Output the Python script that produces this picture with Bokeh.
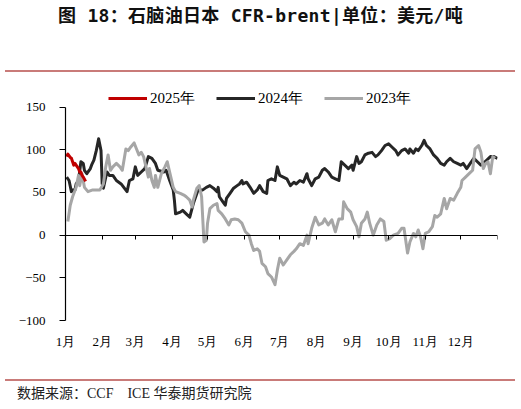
from bokeh.plotting import figure
from bokeh.models import (Range1d, FixedTicker, LinearAxis, Legend, LegendItem, Div)
from bokeh.layouts import column
from bokeh.embed import file_html
from bokeh.resources import INLINE

# ---- data (day of year, value in USD/t) ----
month_starts = [0, 31, 59, 90, 120, 151, 181, 212, 243, 273, 304, 334]
month_bounds = month_starts + [365]
month_labels = ["1月", "2月", "3月", "4月", "5月", "6月", "7月", "8月", "9月", "10月", "11月", "12月"]
y_ticks = [-100, -50, 0, 50, 100, 150]

d2025 = [1, 2, 4, 5, 6, 7, 8, 9, 11, 12, 13, 14, 15, 17]
v2025 = [92, 95, 91, 90, 86, 82, 84, 82, 78, 74, 74, 70, 68, 63]

d2024 = [1, 3, 5, 6, 8, 9, 11, 13, 15, 16, 18, 21, 22, 24, 26, 28, 30, 31, 32, 35, 37, 40,
         43, 47, 52, 54, 57, 59, 61, 64, 67, 70, 73, 76, 78, 83, 85, 88, 91, 92, 93, 97, 99,
         102, 105, 108, 112, 116, 119, 122, 125, 128, 129, 130, 133, 135, 136, 139, 142, 145,
         147, 149, 150, 153, 156, 159, 162, 164, 167, 170, 171, 174, 177, 179, 181, 184, 187,
         190, 193, 195, 198, 201, 204, 205, 208, 211, 214, 217, 219, 222, 225, 228, 231, 233,
         239, 242, 243, 246, 248, 250, 253, 256, 259, 262, 264, 267, 270, 273, 276, 279, 281,
         284, 287, 290, 291, 294, 296, 298, 301, 303, 305, 308, 311, 314, 317, 320, 322, 325,
         328, 331, 334, 336, 339, 342, 345, 348, 351, 353, 356, 359, 362, 365]
v2024 = [68, 64, 51, 53, 53, 60, 64, 86, 84, 76, 72, 78, 82, 88, 99, 113, 99, 60, 55, 74, 70, 70,
         64, 60, 51, 64, 66, 80, 70, 74, 78, 92, 90, 84, 76, 74, 76, 64, 53, 41, 25, 27, 29,
         25, 21, 37, 53, 53, 56, 58, 55, 51, 56, 45, 39, 35, 43, 49, 55, 58,
         60, 64, 60, 62, 56, 49, 53, 58, 51, 49, 64, 66, 64, 80, 70, 68, 66,
         58, 62, 60, 64, 62, 72, 66, 58, 66, 68, 76, 78, 74, 68, 66, 64, 86,
         78, 82, 76, 92, 84, 86, 94, 96, 97, 92, 94, 99, 105, 107, 103, 99, 94,
         99, 101, 96, 101, 96, 101, 99, 105, 111, 105, 101, 94, 90, 84, 82, 86, 90,
         86, 84, 82, 84, 78, 84, 90, 86, 82, 84, 88, 92, 92, 90]

d2023 = [2, 4, 6, 9, 11, 12, 14, 16, 19, 23, 29, 32, 34, 36, 38, 40, 43, 46, 48, 51, 53, 55,
         58, 60, 62, 64, 66, 68, 70, 71, 73, 75, 76, 78, 81, 84, 86, 88, 91, 93, 97, 100,
         102, 105, 107, 108, 111, 113, 115, 117, 119, 120, 122, 125, 128, 129, 132, 135, 138,
         140, 143, 146, 149, 152, 155, 157, 159, 162, 164, 166, 169, 171, 174, 177, 179, 181,
         184, 187, 190, 193, 195, 198, 201, 204, 205, 208, 211, 214, 217, 219, 222, 225, 228,
         231, 234, 235, 238, 241, 243, 246, 248, 250, 253, 255, 257, 260, 263, 266, 269, 271,
         274, 277, 281, 284, 286, 289, 291, 294, 296, 298, 300, 302, 304, 307, 310, 312, 314,
         317, 320, 322, 325, 328, 331, 334, 335, 338, 341, 344, 346, 349, 351, 353, 355, 357,
         359, 361, 363]
v2023 = [16, 35, 45, 56, 70, 58, 72, 56, 51, 53, 53, 60, 80, 94, 76, 80, 84, 80, 76, 101, 99, 103,
         108, 101, 94, 97, 92, 80, 68, 78, 64, 56, 70, 56, 72, 80, 86, 74, 56, 51, 49, 47,
         45, 41, 33, 41, 55, 58, 45, -8, -6, 14, 31, 35, 37, 29, 25, 19, 12,
         18, 19, 18, 14, 4, 0, -10, -18, -16, -19, -33, -37, -45, -49, -58, -41, -27,
         -35, -29, -23, -19, -16, -10, -12, 0, -10, 8, 21, 12, 14, 19, 12, 18, 4,
         19, 19, 39, 31, 27, 18, 10, -2, 14, 19, 27, 14, 0, 12, 19, 16, -6,
         -4, 0, 2, 8, 8, -21, -8, 2, -2, 6, -2, -16, 2, 4, 10, 23, 21,
         25, 43, 31, 43, 41, 49, 56, 64, 68, 72, 76, 101, 105, 97, 78, 84, 86,
         72, 92, 90]

SERIF = "Times New Roman"

# frame extends above 150 to leave room for the legend inside it; the axis is bounded to -100..150
p = figure(width=505, height=304, output_backend="svg", toolbar_location=None,
           x_range=Range1d(0, 365), y_range=Range1d(-100, 180),
           min_border_left=57, min_border_right=16, min_border_top=9, min_border_bottom=56,
           background_fill_color="white", border_fill_color="white", margin=0)
p.outline_line_color = None
p.xgrid.visible = False
p.ygrid.visible = False

# month labels (bottom)
p.xaxis.ticker = FixedTicker(ticks=month_starts)
p.xaxis.major_label_overrides = {m: lab for m, lab in zip(month_starts, month_labels)}
p.xaxis.axis_line_color = None
p.xaxis.major_tick_line_color = None
p.xaxis.minor_tick_line_color = None
p.xaxis.major_tick_out = 0
p.xaxis.major_tick_in = 0
p.xaxis.major_label_standoff = 13
p.xaxis.major_label_text_font = SERIF
p.xaxis.major_label_text_font_size = "13px"
p.xaxis.major_label_text_color = "black"

# axis line at zero with month-boundary ticks (no labels)
zero_axis = LinearAxis(fixed_location=0, ticker=FixedTicker(ticks=month_bounds),
                       major_tick_in=0, major_tick_out=4,
                       major_label_overrides={b: "" for b in month_bounds},
                       major_label_standoff=0, axis_line_color="black", axis_line_width=1.2,
                       major_tick_line_color="black", minor_tick_line_color=None)
p.add_layout(zero_axis, "below")

# y axis
p.yaxis.ticker = FixedTicker(ticks=y_ticks)
p.yaxis.bounds = (-100, 150)
p.yaxis.axis_line_color = "black"
p.yaxis.axis_line_width = 1.2
p.yaxis.major_tick_line_color = "black"
p.yaxis.minor_tick_line_color = None
p.yaxis.major_tick_in = 0
p.yaxis.major_tick_out = 6
p.yaxis.major_label_standoff = 14
p.yaxis.major_label_text_font = SERIF
p.yaxis.major_label_text_font_size = "13px"
p.yaxis.major_label_text_color = "black"

r24 = p.line(d2024, v2024, line_color="#262626", line_width=3, line_join="round")
r23 = p.line(d2023, v2023, line_color="#a6a6a6", line_width=3, line_join="round")
r25 = p.line(d2025, v2025, line_color="#c00000", line_width=3, line_join="round")

legend = Legend(items=[LegendItem(label="2025年", renderers=[r25]),
                       LegendItem(label="2024年", renderers=[r24]),
                       LegendItem(label="2023年", renderers=[r23])],
                orientation="horizontal", location=(43, 212), padding=0, margin=0,
                spacing=21, label_standoff=3, glyph_width=39, glyph_height=20,
                label_height=20, label_text_font=SERIF, label_text_font_size="15px",
                label_text_color="black", background_fill_alpha=0, border_line_color=None)
p.add_layout(legend, "center")

title_html = ('<div style="position:relative;width:505px;height:64px;">'
              '<div style="position:absolute;left:0;top:-1px;width:505px;text-align:center;'
              "font-family:'DejaVu Sans Mono','Noto Sans CJK SC';font-weight:bold;font-size:18px;"
              'line-height:18px;letter-spacing:0.3px;color:#111;white-space:nowrap;">'
              '图 18：石脑油日本 CFR-brent|单位：美元/吨</div>'
              '<div style="position:absolute;left:-3px;top:62px;width:510px;height:2px;background:#c97b79;"></div>'
              '</div>')
title_div = Div(text=title_html, width=505, height=64, margin=0)

foot_html = ('<div style="position:relative;width:505px;height:25px;">'
             '<div style="position:absolute;left:-3px;top:3px;width:510px;height:2px;background:#c97b79;"></div>'
             '<div style="position:absolute;left:9px;top:11px;white-space:nowrap;'
             "font-family:'Liberation Serif','Noto Sans CJK SC';font-size:14px;line-height:14px;color:#222;\">"
             '数据来源：CCF&nbsp;&nbsp;&nbsp;&nbsp;ICE 华泰期货研究院</div>'
             '</div>')
foot_div = Div(text=foot_html, width=505, height=25, margin=0)

layout = column(title_div, p, foot_div, spacing=0, margin=(8, 0, 0, 8))
open("out.html", "w").write(file_html(layout, INLINE))
